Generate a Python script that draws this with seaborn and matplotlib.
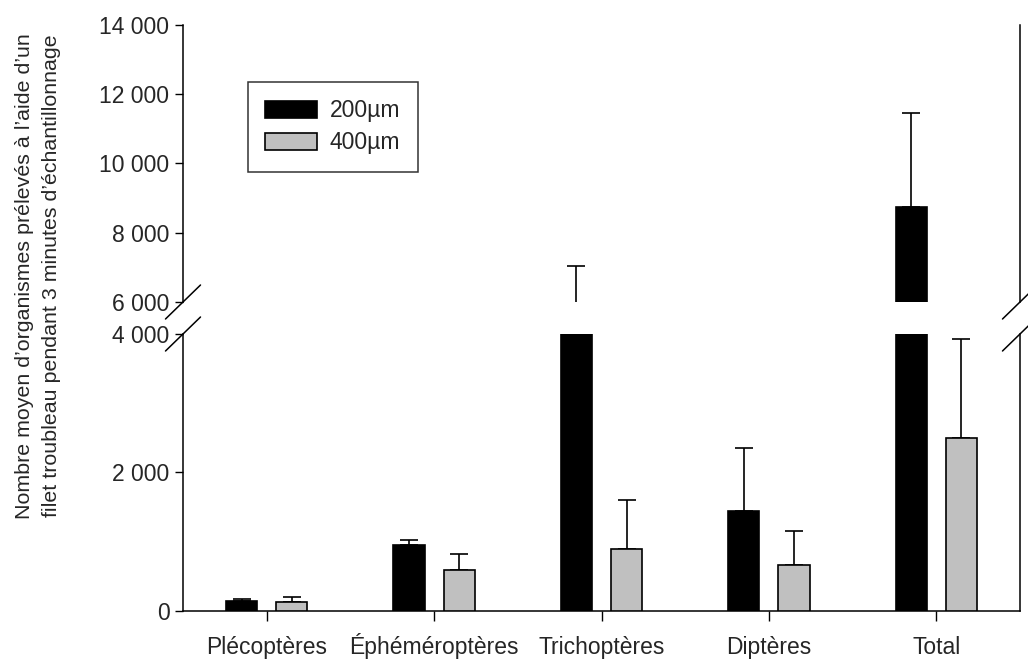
import matplotlib
matplotlib.use("Agg")
import matplotlib.pyplot as plt
import seaborn as sns
import pandas as pd

# Mean counts per taxon and net mesh size, with the upper half of the error bars
categories = ["Plécoptères", "Éphéméroptères", "Trichoptères", "Diptères", "Total"]
mesh_sizes = ["200µm", "400µm"]
mean_200 = [136, 945, 5000, 1441, 8737]
err_200 = [29, 77, 2040, 910, 2734]
mean_400 = [130, 588, 887, 665, 2491]
err_400 = [72, 227, 713, 487, 1431]

upper_ticks = [6000, 8000, 10000, 12000, 14000]
lower_ticks = [0, 2000, 4000]

ylabel = ("Nombre moyen d\u2019organismes prélevés à l\u2019aide d\u2019un\n"
          "filet troubleau pendant 3 minutes d\u2019échantillonnage")

df = pd.DataFrame({
    "taxon": categories * 2,
    "maille": [mesh_sizes[0]] * len(categories) + [mesh_sizes[1]] * len(categories),
    "moyenne": mean_200 + mean_400,
})
errors = {mesh_sizes[0]: err_200, mesh_sizes[1]: err_400}
means = {mesh_sizes[0]: mean_200, mesh_sizes[1]: mean_400}

sns.set_style("ticks")
plt.rcParams["font.family"] = ["Liberation Sans", "DejaVu Sans"]
plt.rcParams["font.size"] = 16.5

fig = plt.figure(figsize=(10.28, 6.6), dpi=100)
W, H = 1028, 660
left, right = 183 / W, 1020 / W
ax_hi = fig.add_axes([left, 1 - 302 / H, right - left, (302 - 25) / H])
ax_lo = fig.add_axes([left, 1 - 610.7 / H, right - left, (610.7 - 334) / H])

palette = {mesh_sizes[0]: "black", mesh_sizes[1]: "#c0c0c0"}

for ax in (ax_hi, ax_lo):
    sns.barplot(data=df, x="taxon", y="moyenne", hue="maille", order=categories,
                hue_order=mesh_sizes, palette=palette, edgecolor="black",
                linewidth=1.2, width=0.6, gap=0.38, errorbar=None, ax=ax,
                legend=(ax is ax_hi), zorder=3)
    for level, cont in zip(mesh_sizes, ax.containers):
        xs = [p.get_x() + p.get_width() / 2 for p in cont.patches]
        ax.errorbar(xs, means[level], yerr=[[0] * len(xs), errors[level]],
                    fmt="none", ecolor="black", elinewidth=1.2,
                    capsize=6.2, capthick=1.2, zorder=2)
    ax.set_xlim(-0.5, len(categories) - 0.5)
    ax.set_xlabel("")
    ax.set_ylabel("")
    ax.tick_params(axis="both", direction="out", length=5.8, width=1,
                   color="black", labelsize=16.5, pad=4)
    for s in ax.spines.values():
        s.set_color("black")
        s.set_linewidth(1.1)

# upper panel
ax_hi.set_ylim(6000, 14000)
ax_hi.set_yticks(upper_ticks)
ax_hi.set_yticklabels([f"{v:,}".replace(",", " ") for v in upper_ticks])
ax_hi.spines["top"].set_visible(False)
ax_hi.spines["bottom"].set_visible(False)
ax_hi.tick_params(axis="x", bottom=False, labelbottom=False)

# lower panel
ax_lo.set_ylim(0, 4000)
ax_lo.set_yticks(lower_ticks)
ax_lo.set_yticklabels([f"{v:,}".replace(",", " ") for v in lower_ticks])
ax_lo.spines["top"].set_visible(False)
ax_lo.tick_params(axis="x", length=7, pad=24)
for lab in ax_lo.get_xticklabels():
    lab.set_verticalalignment("baseline")

# break marks on both vertical spines
dx_hi, dy_hi = 17.5 / 837, 17 / 277
dx_lo, dy_lo = 17.5 / 837, 17 / 276.7
for xa in (0, 1):
    ax_hi.plot([xa - dx_hi, xa + dx_hi], [-dy_hi, dy_hi], transform=ax_hi.transAxes,
               color="black", lw=1.1, clip_on=False)
    ax_lo.plot([xa - dx_lo, xa + dx_lo], [1 - dy_lo, 1 + dy_lo], transform=ax_lo.transAxes,
               color="black", lw=1.1, clip_on=False)

leg = ax_hi.legend(loc="upper left", bbox_to_anchor=(0.0777, 0.794), borderaxespad=0,
                   frameon=True, fancybox=False, edgecolor="black", fontsize=16.5,
                   handlelength=2.27, handleheight=0.78, handletextpad=0.55,
                   labelspacing=0.4, borderpad=0.75, title=None)
leg.get_frame().set_linewidth(1.1)

fig.text(38 / W, 1 - 276 / H, ylabel, rotation=90, ha="center", va="center",
         multialignment="center", fontsize=15.4, linespacing=1.55)

fig.savefig("out.png", dpi=100, facecolor="white")
